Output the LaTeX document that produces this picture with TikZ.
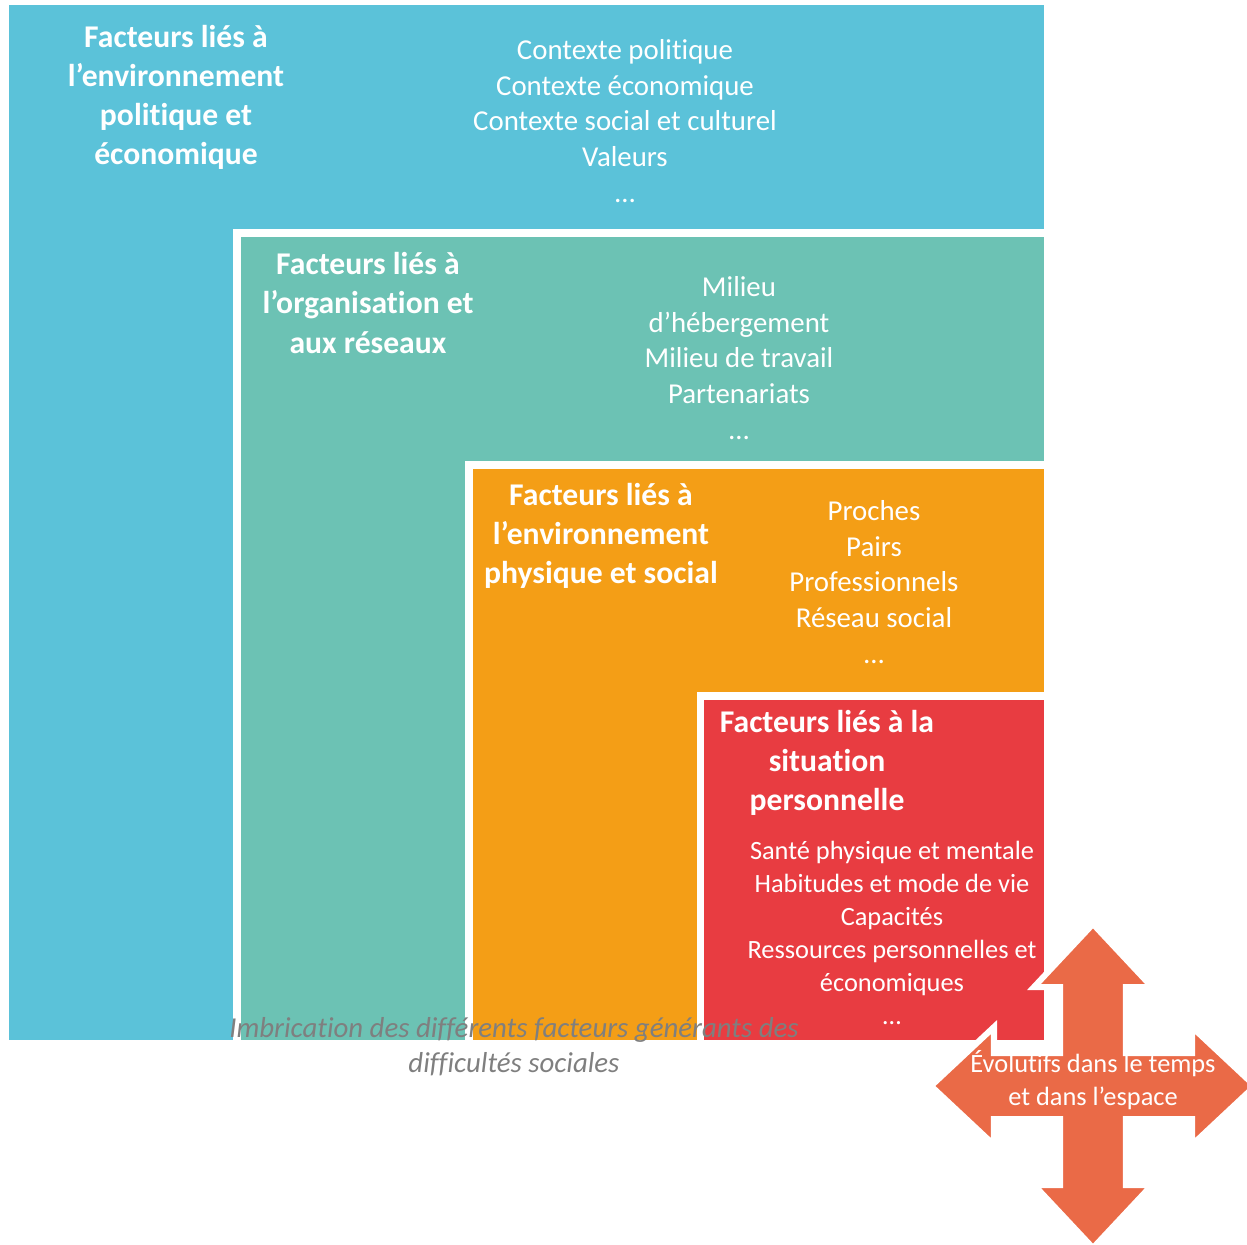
\documentclass[tikz,border=0pt]{standalone}
\usepackage{fontspec}
\setmainfont[Ligatures=NoCommon]{Carlito}
\usetikzlibrary{positioning}
\definecolor{envblue}{HTML}{5BC2D9}
\definecolor{orgteal}{HTML}{6CC2B4}
\definecolor{physorange}{HTML}{F49E16}
\definecolor{persred}{HTML}{E83C41}
\definecolor{arrowred}{HTML}{EA6A47}
\definecolor{captiongray}{HTML}{7F7F7F}
\tikzstyle{title} = [text=white, align=center, font=\fontsize{9}{11.1}\selectfont\bfseries]
\tikzstyle{list} = [text=white, align=center, font=\fontsize{8.2}{10.2}\selectfont]
\tikzstyle{smalllist} = [text=white, align=center, font=\fontsize{7.5}{9.35}\selectfont]
\tikzstyle{caption} = [text=captiongray, align=center, font=\fontsize{8.2}{9.95}\selectfont\itshape]
\tikzstyle{quadarrow} = [fill=arrowred, draw=white, line width=0.06cm, line join=miter]

\begin{document}
\begin{tikzpicture}[x=0.01cm, y=-0.01cm]
    \useasboundingbox (0,0) rectangle (1247,1245);
    % nested boxes
    \fill [envblue] (9,5) rectangle (1044,1040);
    \fill [white] (233,229) rectangle (1044,1040);
    \fill [orgteal] (241,237) rectangle (1044,1040);
    \fill [white] (465,461) rectangle (1044,1040);
    \fill [physorange] (473,469) rectangle (1044,1040);
    \fill [white] (697,692) rectangle (1044,1040);
    \fill [persred] (704,700) rectangle (1044,1040);
    % texts
    \node [title] at (176,97) (envtitle) {Facteurs liés à\\l’environnement\\politique et\\économique};
    \node [list] at (625,121) (envlist) {Contexte politique\\Contexte économique\\Contexte social et culturel\\Valeurs\\…};
    \node [title] at (368,303) (orgtitle) {Facteurs liés à\\l’organisation et\\aux réseaux};
    \node [list] at (739,358) (orglist) {Milieu\\d’hébergement\\Milieu de travail\\Partenariats\\…};
    \node [title] at (601,536) (phystitle) {Facteurs liés à\\l’environnement\\physique et social};
    \node [list] at (874,582) (physlist) {Proches\\Pairs\\Professionnels\\Réseau social\\…};
    \node [title] at (827,763) (perstitle) {Facteurs liés à la\\situation\\personnelle};
    \node [smalllist] at (892,933) (perslist) {Santé physique et mentale\\Habitudes et mode de vie\\Capacités\\Ressources personnelles et\\économiques\\…};
    \node [caption] at (514,1047) (legend) {Imbrication des différents facteurs générants des\\difficultés sociales};
    % four-way arrow
    \begin{scope}[shift={(1093,1086)}]
        \draw [quadarrow] (0,-162) -- (59,-99) -- (33,-99) -- (33,-33) -- (99,-33) -- (99,-59) -- (162,0) -- (99,59) -- (99,33) -- (33,33) -- (33,99) -- (59,99) -- (0,162) -- (-59,99) -- (-33,99) -- (-33,33) -- (-99,33) -- (-99,59) -- (-162,0) -- (-99,-59) -- (-99,-33) -- (-33,-33) -- (-33,-99) -- (-59,-99) -- cycle;
    \end{scope}
    \node [smalllist] at (1093,1080) (evolution) {Évolutifs dans le temps\\et dans l’espace};
\end{tikzpicture}
\end{document}
